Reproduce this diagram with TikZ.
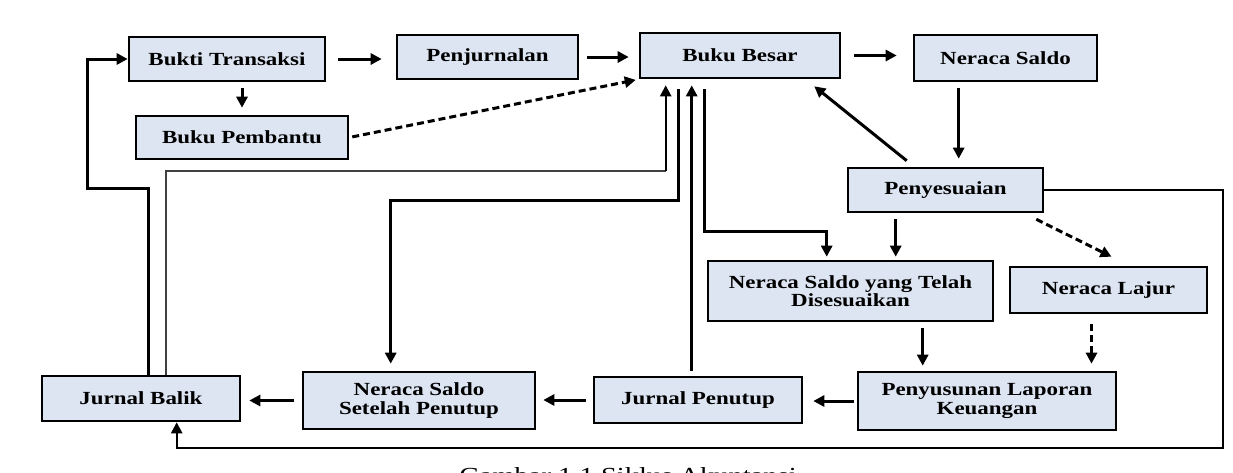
\documentclass[tikz,border=0pt]{standalone}
\usepackage{fontspec}
\setmainfont{Liberation Serif}
\newfontfamily\boxfont[FakeStretch=1.24]{Liberation Serif}
\usetikzlibrary{arrows.meta,calc}
\definecolor{boxfill}{RGB}{221,229,242}
\tikzset{
  box/.style={draw=black, line width=2.6pt, fill=boxfill, inner sep=0pt, align=center,
    font=\boxfont\bfseries\fontsize{18.5}{18.5}\selectfont},
  arr/.style={line width=3pt, -{Triangle[length=11pt,width=11pt]}},
  thin/.style={line width=1.8pt, draw=black!75},
  dsh/.style={arr, dash pattern=on 7pt off 4pt},
}
\begin{document}
\begin{tikzpicture}[x=1pt,y=-1pt]
\useasboundingbox (0,0) rectangle (1233,472);
\clip (0,0) rectangle (1233,472);
\fill[white] (0,0) rectangle (1233,472);
% nodes
\node[box, minimum width=196pt, minimum height=44pt] (bt) at (227,59) {Bukti Transaksi};
\node[box, minimum width=212pt, minimum height=43pt] (bp) at (242,137.5) {Buku Pembantu};
\node[box, minimum width=181pt, minimum height=44pt] (pj) at (487.5,57) {Penjurnalan};
\node[box, minimum width=200pt, minimum height=45pt] (bb) at (740,55.5) {Buku Besar};
\node[box, minimum width=183pt, minimum height=46pt] (ns) at (1005.5,58) {Neraca Saldo};
\node[box, minimum width=195pt, minimum height=44pt] (py) at (945.5,190) {Penyesuaian};
\node[box, minimum width=285pt, minimum height=60pt] (nstd) at (850.5,291) {Neraca Saldo yang Telah\\Disesuaikan};
\node[box, minimum width=197pt, minimum height=46pt] (nl) at (1108.5,290) {Neraca Lajur};
\node[box, minimum width=258pt, minimum height=58pt] (plk) at (987,401) {Penyusunan Laporan\\Keuangan};
\node[box, minimum width=208pt, minimum height=46pt] (jp) at (698,400) {Jurnal Penutup};
\node[box, minimum width=232pt, minimum height=57pt] (nssp) at (419,400.5) {Neraca Saldo\\Setelah Penutup};
\node[box, minimum width=198pt, minimum height=45pt] (jb) at (141,398.5) {Jurnal Balik};
\node[font=\boxfont\fontsize{23}{24}\selectfont, anchor=base, inner sep=0pt] (cap) at (628,483) {Gambar 1.1 Siklus Akuntansi};
% helper coordinates
\coordinate (c1) at ($(ns.south west)+(46,0)$);
\coordinate (c2) at ($(py.south west)+(49,0)$);
\coordinate (c3) at ($(nl.south)+(-17,0)$);
\coordinate (c4) at ($(nstd.south west)+(216,0)$);
\coordinate (c5) at ($(jp.north west)+(99,0)$);
\coordinate (c6) at ($(bb.south west)+(66,10)$);
\coordinate (c7) at ($(nstd.north west)+(120,-28)$);
\coordinate (c8) at ($(bb.south west)+(40,10)$);
\coordinate (c9) at ($(nssp.north west)+(89,-170)$);
\coordinate (c10) at ($(jb.north west)+(125,0)$);
\coordinate (c11) at ($(bb.south west)+(27,92)$);
\coordinate (c12) at ($(jb.north west)+(108,0)$);
\coordinate (c13) at ($(jb.south west)+(136,0)$);
\coordinate (r1) at (1223,448);
% top row
\draw[arr, shorten <=12pt, shorten >=14pt] (bt.east) -- (pj.west |- bt.east);
\draw[arr, shorten <=8pt, shorten >=10pt] (pj.east) -- (bb.west |- pj.east);
\draw[arr, shorten <=13pt, shorten >=16pt] (bb.east) -- (ns.west |- bb.east);
\draw[arr, shorten <=6pt, shorten >=7pt] (bp.north |- bt.south) -- (bp.north);
\draw[dsh, shorten <=3pt, shorten >=3pt] (bp.east) -- (bb.south west);
% right column
\draw[arr, shorten <=6pt, shorten >=8pt] (c1) -- (c1 |- py.north);
\draw[arr] ($(py.north west)+(60,-6)$) -- ($(bb.south east)+(-27,7)$);
\draw[arr, line width=2.4pt] (py.east) -| (r1) -| (c13);
\draw[arr, shorten <=6pt, shorten >=3pt] (c2) -- (c2 |- nstd.north);
\draw[dsh] ($(py.south east)+(-8,6)$) -- ($(nl.north)+(3,-9)$);
\draw[dsh, shorten <=10pt, shorten >=7pt] (c3) -- (c3 |- plk.north);
\draw[arr, shorten <=6pt, shorten >=5pt] (c4) -- (c4 |- plk.north);
% bottom row
\draw[arr, shorten <=3pt, shorten >=10pt] (plk.west) -- (jp.east |- plk.west);
\draw[arr, shorten <=7pt, shorten >=7pt] (jp.west) -- (nssp.east |- jp.west);
\draw[arr, shorten <=8pt, shorten >=8pt] (nssp.west) -- (jb.east |- nssp.west);
% feedback lines around Buku Besar
\draw[arr, shorten <=5pt, shorten >=6pt] (c5) -- (c5 |- bb.south);
\draw[arr, shorten >=3pt] (c6) |- (c7) -- (c7 |- nstd.north);
\draw[arr, shorten >=7pt] (c8) |- (c9) -- (c9 |- nssp.north);
\draw[thin] (c10) |- (c11);
\draw[arr, line width=2.4pt, shorten >=6pt] (c11) -- (c11 |- bb.south);
\draw[arr] (c12) -- ++(0,-186) -- ++(-61,0) |- (bt.west);
\end{tikzpicture}
\end{document}
